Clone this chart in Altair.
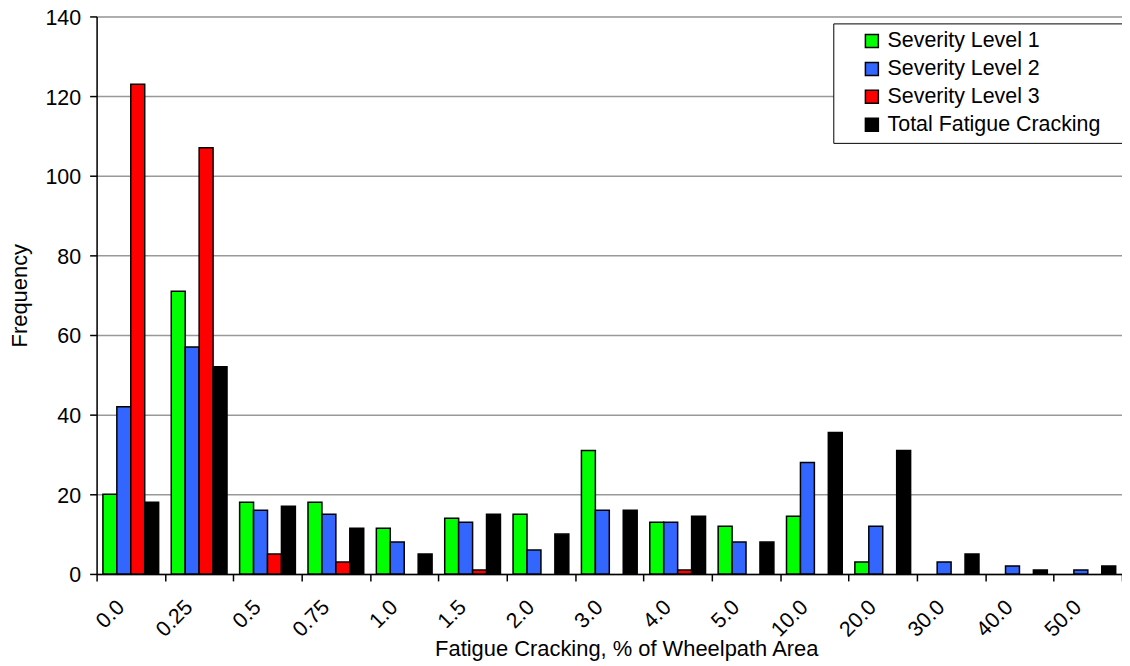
import altair as alt
import pandas as pd

categories = ["0.0", "0.25", "0.5", "0.75", "1.0", "1.5", "2.0", "3.0", "4.0",
              "5.0", "10.0", "20.0", "30.0", "40.0", "50.0"]
series = ["Severity Level 1", "Severity Level 2", "Severity Level 3", "Total Fatigue Cracking"]
level1 = [20, 71, 18, 18, 11.5, 14, 15, 31, 13, 12, 14.5, 3, 0, 0, 0]
level2 = [42, 57, 16, 15, 8, 13, 6, 16, 13, 8, 28, 12, 3, 2, 1]
level3 = [123, 107, 5, 3, 0, 1, 0, 0, 1, 0, 0, 0, 0, 0, 0]
total = [18, 52, 17, 11.5, 5, 15, 10, 16, 14.5, 8, 35.5, 31, 5, 1, 2]
colors = ["#00ff00", "#3366ff", "#ff0000", "#000000"]
y_ticks = [0, 20, 40, 60, 80, 100, 120, 140]

rows = []
for s, vals in zip(series, [level1, level2, level3, total]):
    for c, v in zip(categories, vals):
        rows.append({"cat": c, "series": s, "value": v})
df = pd.DataFrame(rows)

FONT = "Liberation Sans"

chart = alt.Chart(df).transform_filter("datum.value > 0").mark_bar(
    stroke="black", strokeWidth=1.5
).encode(
    x=alt.X("cat:N", sort=categories,
            scale=alt.Scale(domain=categories, paddingInner=0, paddingOuter=0),
            axis=alt.Axis(title="Fatigue Cracking, % of Wheelpath Area",
                          labelAngle=-45, labelAlign="right", labelBaseline="middle",
                          labelPadding=23, labelOffset=-10, labelFontSize=21.5,
                          labelColor="black", labelOverlap=False, labelFont=FONT,
                          tickBand="extent", tickSize=7, tickColor="black", tickWidth=1.5,
                          domainColor="black", domainWidth=1.5,
                          titleFontSize=22, titleFontWeight="normal", titleColor="black",
                          titleFont=FONT, titleX=532, titleY=82,
                          titleBaseline="alphabetic", titleAlign="center", grid=False)),
    xOffset=alt.XOffset("series:N", sort=series,
                        scale=alt.Scale(domain=series, paddingOuter=0.4524, paddingInner=0)),
    y=alt.Y("value:Q", scale=alt.Scale(domain=[0, 140], nice=False),
            axis=alt.Axis(title="Frequency", values=y_ticks, grid=True,
                          gridColor="#999999", gridWidth=1.5,
                          labelFontSize=21.5, labelColor="black", labelPadding=9,
                          labelFont=FONT, labelOffset=2,
                          tickSize=7, tickColor="black", tickWidth=1.5,
                          domainColor="black", domainWidth=1.5,
                          titleFontSize=22, titleFontWeight="normal", titleColor="black",
                          titleFont=FONT, titleX=-70.5, titleBaseline="alphabetic")),
    color=alt.Color("series:N", sort=series,
                    scale=alt.Scale(domain=series, range=colors),
                    legend=alt.Legend(title=None, orient="none", legendX=740, legendY=7,
                                      direction="vertical",
                                      padding=7, symbolOffset=21, labelOffset=5,
                                      rowPadding=5, symbolType="square", symbolSize=169,
                                      symbolStrokeColor="black", symbolStrokeWidth=1.5,
                                      strokeColor="black", fillColor="white",
                                      labelFontSize=21.5, labelColor="black",
                                      labelFont=FONT, labelLimit=400,
                                      labelExpr="datum.label + '\u00a0\u00a0\u00a0\u200b'")),
).properties(
    width=1030, height=560,
    autosize=alt.AutoSizeParams(type="none"),
    padding={"left": 89, "top": 7, "right": 0, "bottom": 91},
).configure_view(strokeOpacity=0).configure(font=FONT)

chart.save("out.html", embed_options={"renderer": "svg", "actions": False})
